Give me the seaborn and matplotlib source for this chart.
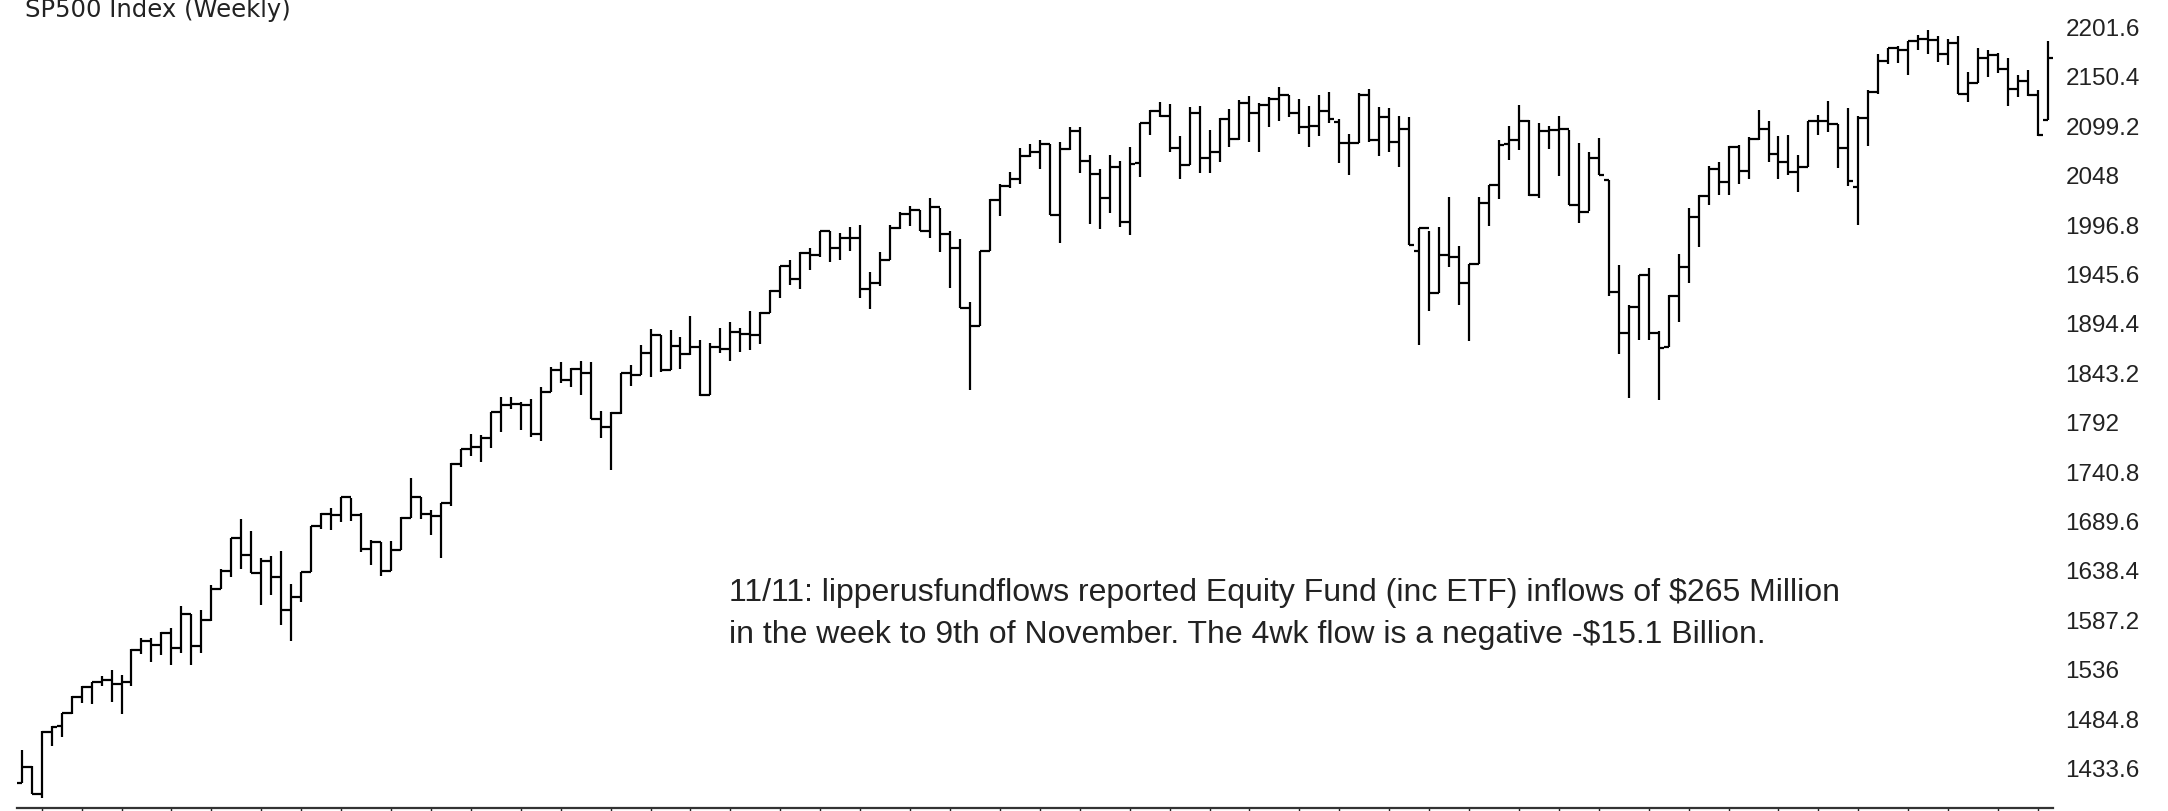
import numpy as np
import pandas as pd
import matplotlib
matplotlib.use("Agg")
import matplotlib.pyplot as plt
from matplotlib.transforms import ScaledTranslation
import seaborn as sns

# weekly bars, week ending Fri 21 Dec 2012 .. Fri 11 Nov 2016
week_ending = pd.date_range("2012-12-21", periods=204, freq="W-FRI")

opens = [
    1413.6, 1430.2,
    # 2013
    1402.4, 1466.5, 1472.1, 1486.0, 1503.0, 1513.2, 1517.9, 1519.8, 1515.6, 1518.2, 1551.2, 1560.7, 1556.9,
    1569.2, 1553.3, 1588.9, 1555.3, 1582.2, 1614.4, 1633.7, 1667.5, 1649.6, 1630.7, 1643.4, 1626.7, 1592.4,
    1606.3, 1631.9, 1680.2, 1692.1, 1691.7, 1709.7, 1691.4, 1655.8, 1663.5, 1633.0, 1655.2, 1688.0, 1709.9,
    1691.8, 1690.5, 1703.2, 1744.5, 1759.8, 1761.6, 1770.6, 1798.2, 1804.8, 1805.8, 1805.1, 1775.3, 1818.3,
    # 2014
    1841.4, 1831.4, 1842.4, 1838.7, 1790.3, 1782.6, 1797.0, 1838.6, 1836.3, 1859.5, 1878.0, 1841.1, 1866.5,
    1857.6, 1865.1, 1815.7, 1864.9, 1863.4, 1881.1, 1878.5, 1877.9, 1900.5, 1923.6, 1949.4, 1936.2, 1962.9,
    1961.0, 1985.4, 1967.6, 1978.2, 1978.3, 1925.2, 1931.6, 1955.1, 1988.4, 2003.4, 2007.7, 1985.5, 2010.4,
    1982.9, 1967.9, 1906.1, 1886.8, 1964.6, 2018.1, 2031.9, 2039.8, 2063.5, 2067.6, 2075.4, 2002.3, 2070.7,
    # 2015
    2088.8, 2058.2, 2044.8, 2019.4, 2051.8, 1995.0, 2055.5, 2097.0, 2110.3, 2104.5, 2071.3, 2053.4, 2108.1,
    2061.0, 2067.0, 2102.1, 2081.2, 2117.7, 2108.3, 2116.1, 2122.7, 2126.1, 2107.4, 2092.8, 2094.1, 2110.0,
    2098.6, 2076.8, 2076.6, 2126.6, 2079.7, 2103.8, 2077.6, 2091.5, 1965.2, 1988.9, 1921.2, 1961.1, 1958.1,
    1931.3, 1951.4, 2014.9, 2033.1, 2075.2, 2079.4, 2099.2, 2023.0, 2089.2, 2090.1, 2091.7, 2012.4, 2005.6,
    2061.0,
    # 2016
    2038.2, 1922.0, 1880.3, 1906.9, 1940.2, 1880.1, 1864.8, 1917.8, 1948.1, 2000.0, 2022.2, 2049.6, 2035.9,
    2072.8, 2047.6, 2080.7, 2091.6, 2065.3, 2057.1, 2046.6, 2052.3, 2099.1, 2099.1, 2096.1, 2071.2, 2031.5,
    2103.0, 2129.9, 2161.7, 2175.0, 2173.6, 2182.9, 2184.1, 2183.9, 2169.0, 2180.0, 2127.8, 2139.2, 2164.7,
    2168.3, 2153.7, 2133.0, 2141.2, 2126.4, 2100.6,
]

highs = [
    1448.0, 1430.7,
    # 2013
    1467.9, 1472.3, 1486.0, 1503.3, 1514.4, 1518.3, 1524.7, 1530.9, 1525.3, 1552.5, 1563.3, 1564.0, 1570.3,
    1573.7, 1597.4, 1588.9, 1592.6, 1618.5, 1635.0, 1667.5, 1687.2, 1674.2, 1646.5, 1648.7, 1654.2, 1620.1,
    1632.1, 1680.2, 1693.1, 1698.8, 1709.7, 1709.2, 1693.0, 1664.9, 1663.6, 1664.8, 1689.0, 1729.9, 1710.2,
    1696.6, 1703.4, 1745.3, 1759.8, 1775.2, 1774.5, 1798.2, 1813.6, 1813.6, 1808.0, 1811.5, 1823.8, 1844.9,
    # 2014
    1849.4, 1843.2, 1850.8, 1849.3, 1798.8, 1798.0, 1838.6, 1846.9, 1867.9, 1883.6, 1878.0, 1883.0, 1875.2,
    1897.3, 1872.5, 1869.6, 1884.9, 1891.3, 1885.3, 1902.2, 1901.3, 1924.0, 1949.4, 1955.6, 1963.9, 1968.2,
    1985.6, 1985.6, 1983.9, 1989.2, 1991.4, 1942.9, 1964.0, 1992.0, 2005.0, 2011.2, 2007.7, 2019.3, 2009.1,
    1985.2, 1977.4, 1912.1, 1965.3, 2018.2, 2034.3, 2046.2, 2071.5, 2075.8, 2079.5, 2075.8, 2077.9, 2093.6,
    # 2015
    2093.5, 2064.4, 2049.3, 2064.6, 2057.6, 2072.4, 2097.0, 2110.6, 2119.6, 2117.5, 2083.5, 2113.9, 2114.9,
    2089.8, 2102.6, 2111.9, 2120.9, 2125.9, 2117.7, 2123.9, 2134.7, 2126.2, 2121.9, 2115.0, 2126.6, 2130.0,
    2101.5, 2085.7, 2129.0, 2132.8, 2114.2, 2112.7, 2104.2, 2103.5, 1989.0, 1986.0, 1990.0, 2020.9, 1970.0,
    1951.4, 2020.9, 2033.5, 2079.7, 2094.3, 2116.5, 2100.2, 2097.0, 2094.1, 2104.3, 2090.4, 2076.7, 2067.6,
    2081.6,
    # 2016
    2038.2, 1950.3, 1908.9, 1940.3, 1947.2, 1881.6, 1918.8, 1962.0, 2009.1, 2022.4, 2052.4, 2056.6, 2074.0,
    2075.1, 2083.2, 2111.1, 2099.9, 2083.8, 2084.9, 2064.6, 2099.4, 2105.3, 2120.6, 2096.1, 2113.3, 2104.2,
    2131.7, 2169.1, 2175.6, 2177.1, 2182.9, 2188.5, 2193.8, 2187.9, 2184.9, 2187.9, 2150.8, 2175.3, 2172.7,
    2169.6, 2164.4, 2147.3, 2152.0, 2131.5, 2182.3,
]

lows = [
    1413.5, 1401.6,
    # 2013
    1398.1, 1451.6, 1461.0, 1485.0, 1496.3, 1495.0, 1514.0, 1497.3, 1485.0, 1514.5, 1547.4, 1538.6, 1546.2,
    1536.0, 1548.6, 1536.0, 1548.2, 1581.3, 1614.4, 1626.7, 1635.5, 1630.7, 1598.2, 1608.1, 1577.7, 1560.3,
    1601.1, 1631.9, 1676.3, 1676.0, 1684.4, 1684.9, 1652.6, 1639.4, 1627.5, 1633.4, 1655.2, 1687.9, 1687.1,
    1670.4, 1646.5, 1700.7, 1740.5, 1752.7, 1746.2, 1760.6, 1777.2, 1800.9, 1779.1, 1772.3, 1767.9, 1818.3,
    # 2014
    1827.7, 1823.7, 1815.5, 1790.3, 1770.5, 1737.9, 1795.6, 1824.7, 1836.3, 1834.4, 1839.6, 1841.1, 1842.8,
    1856.7, 1814.4, 1815.7, 1858.7, 1851.2, 1859.8, 1862.4, 1868.1, 1900.5, 1915.9, 1930.0, 1925.8, 1944.7,
    1958.2, 1952.9, 1955.6, 1965.0, 1916.4, 1904.8, 1928.3, 1955.1, 1987.8, 1991.0, 1985.2, 1978.5, 1964.0,
    1926.0, 1906.1, 1820.7, 1886.8, 1964.6, 2001.0, 2030.2, 2034.5, 2062.0, 2049.6, 2002.3, 1972.6, 2069.8,
    # 2015
    2046.0, 1992.4, 1988.1, 2004.5, 1989.2, 1980.9, 2041.9, 2085.4, 2103.3, 2067.3, 2039.7, 2053.4, 2045.5,
    2045.4, 2057.1, 2072.4, 2079.9, 2077.9, 2067.9, 2093.3, 2099.2, 2104.1, 2085.7, 2072.1, 2084.0, 2097.4,
    2056.3, 2044.0, 2076.6, 2077.8, 2063.5, 2067.9, 2052.1, 1970.9, 1867.0, 1903.1, 1921.2, 1948.0, 1908.8,
    1871.9, 1951.4, 1990.7, 2018.8, 2058.8, 2069.0, 2022.0, 2019.4, 2070.3, 2042.4, 2012.0, 1993.3, 2005.9,
    2043.6,
    # 2016
    1918.5, 1857.8, 1812.3, 1872.7, 1872.7, 1810.1, 1864.8, 1891.0, 1931.8, 1969.3, 2012.7, 2022.5, 2022.5,
    2033.8, 2039.7, 2080.0, 2057.3, 2039.5, 2043.1, 2025.9, 2052.3, 2085.1, 2088.5, 2050.4, 2032.1, 1991.7,
    2074.0, 2128.0, 2159.0, 2159.9, 2147.6, 2172.6, 2168.5, 2160.4, 2157.1, 2127.8, 2119.1, 2139.2, 2145.2,
    2149.2, 2114.7, 2124.4, 2125.1, 2083.8, 2100.6,
]

closes = [
    1430.15, 1402.43,
    # 2013
    1466.47, 1472.05, 1485.98, 1502.96, 1513.17, 1517.93, 1519.79, 1515.60, 1518.20, 1551.18, 1560.70,
    1556.89, 1569.19, 1553.28, 1588.85, 1555.25, 1582.24, 1614.42, 1633.70, 1667.47, 1649.60, 1630.74,
    1643.38, 1626.73, 1592.43, 1606.28, 1631.89, 1680.19, 1692.09, 1691.65, 1709.67, 1691.42, 1655.83,
    1663.50, 1632.97, 1655.17, 1687.99, 1709.91, 1691.75, 1690.50, 1703.20, 1744.50, 1759.77, 1761.64,
    1770.61, 1798.18, 1804.76, 1805.81, 1805.09, 1775.32, 1818.32, 1841.40,
    # 2014
    1831.37, 1842.37, 1838.70, 1790.29, 1782.59, 1797.02, 1838.63, 1836.25, 1859.45, 1878.04, 1841.13,
    1866.52, 1857.62, 1865.09, 1815.69, 1864.85, 1863.40, 1881.14, 1878.48, 1877.86, 1900.53, 1923.57,
    1949.44, 1936.16, 1962.87, 1960.96, 1985.44, 1967.57, 1978.22, 1978.34, 1925.15, 1931.59, 1955.06,
    1988.40, 2003.37, 2007.71, 1985.54, 2010.40, 1982.85, 1967.90, 1906.13, 1886.76, 1964.58, 2018.05,
    2031.92, 2039.82, 2063.50, 2067.56, 2075.37, 2002.33, 2070.65, 2088.77,
    # 2015
    2058.20, 2044.81, 2019.42, 2051.82, 1994.99, 2055.47, 2096.99, 2110.30, 2104.50, 2071.26, 2053.40,
    2108.10, 2061.02, 2066.96, 2102.06, 2081.18, 2117.69, 2108.29, 2116.10, 2122.73, 2126.06, 2107.39,
    2092.83, 2094.11, 2109.99, 2101.49, 2076.78, 2076.62, 2126.64, 2079.65, 2103.84, 2077.57, 2091.54,
    1970.89, 1988.87, 1921.22, 1961.05, 1958.08, 1931.34, 1951.36, 2014.89, 2033.11, 2075.15, 2079.36,
    2099.20, 2023.04, 2089.17, 2090.11, 2091.69, 2012.37, 2005.55, 2060.99, 2043.94,
    # 2016
    1922.03, 1880.33, 1906.90, 1940.24, 1880.05, 1864.78, 1917.78, 1948.05, 1999.99, 2022.19, 2049.58,
    2035.94, 2072.78, 2047.60, 2080.73, 2091.58, 2065.30, 2057.14, 2046.61, 2052.32, 2099.06, 2099.13,
    2096.07, 2071.22, 2037.41, 2102.95, 2129.90, 2161.74, 2175.03, 2173.60, 2182.87, 2184.05, 2183.87,
    2169.04, 2179.98, 2127.81, 2139.16, 2164.69, 2168.27, 2153.74, 2132.98, 2141.16, 2126.41, 2085.18,
    2164.45,
]

y_ticks = [2201.6, 2150.4, 2099.2, 2048.0, 1996.8, 1945.6, 1894.4, 1843.2,
           1792.0, 1740.8, 1689.6, 1638.4, 1587.2, 1536.0, 1484.8, 1433.6]
y_labels = ["2201.6", "2150.4", "2099.2", "2048", "1996.8", "1945.6", "1894.4", "1843.2",
            "1792", "1740.8", "1689.6", "1638.4", "1587.2", "1536", "1484.8", "1433.6"]

title = "SP500 Index (Weekly)"
note = ("11/11: lipperusfundflows reported Equity Fund (inc ETF) inflows of $265 Million\n"
        "in the week to 9th of November. The 4wk flow is a negative -$15.1 Billion.")

sns.set_theme(style="white")
plt.rcParams["font.family"] = ["Liberation Sans", "DejaVu Sans"]

W, H = 2168, 811
fig = plt.figure(figsize=(W / 100, H / 100), dpi=100)
ax = fig.add_axes([16.7 / W, 3 / H, (2053 - 16.7) / W, 808 / H])

x = np.arange(len(closes))
bar_kw = dict(color="black", lw=1.6)
ax.vlines(x, lows, highs, **bar_kw)
ax.hlines(opens, x - 0.5, x, **bar_kw)
ax.hlines(closes, x, x + 0.5, **bar_kw)

ax.set_xlim(-0.5, len(closes) - 0.5)
ax.set_ylim(1387.6, 2224.9)

# month ticks at the first weekly bar of each month
months = pd.Series(week_ending.to_period("M"))
month_idx = np.flatnonzero(months.ne(months.shift()).to_numpy())[1:]
ax.set_xticks(month_idx)
ax.tick_params(axis="x", bottom=True, length=2.5, width=1, color="#222",
               direction="out", labelbottom=False)

ax.yaxis.tick_right()
ax.set_yticks(y_ticks, labels=y_labels)
ax.tick_params(axis="y", length=0, pad=9, labelsize=17.5, labelcolor="#222")
# labels sit a few pixels below their level in the original
shift = ScaledTranslation(0, -5 / 100, fig.dpi_scale_trans)
for lab in ax.get_yticklabels():
    lab.set_transform(lab.get_transform() + shift)

sns.despine(ax=ax, left=True, right=True, top=True)
ax.spines["bottom"].set_color("#333")
ax.spines["bottom"].set_linewidth(1.6)
ax.grid(False)

fig.text(25 / W, 1 - 17 / H, title, va="baseline", ha="left",
         fontsize=17.5, family=["DejaVu Sans"], color="#222")
fig.text(729 / W, 1 - 578 / H, note, va="top", ha="left", fontsize=23,
         linespacing=1.5, color="#222")

fig.savefig("out.png", dpi=100)
